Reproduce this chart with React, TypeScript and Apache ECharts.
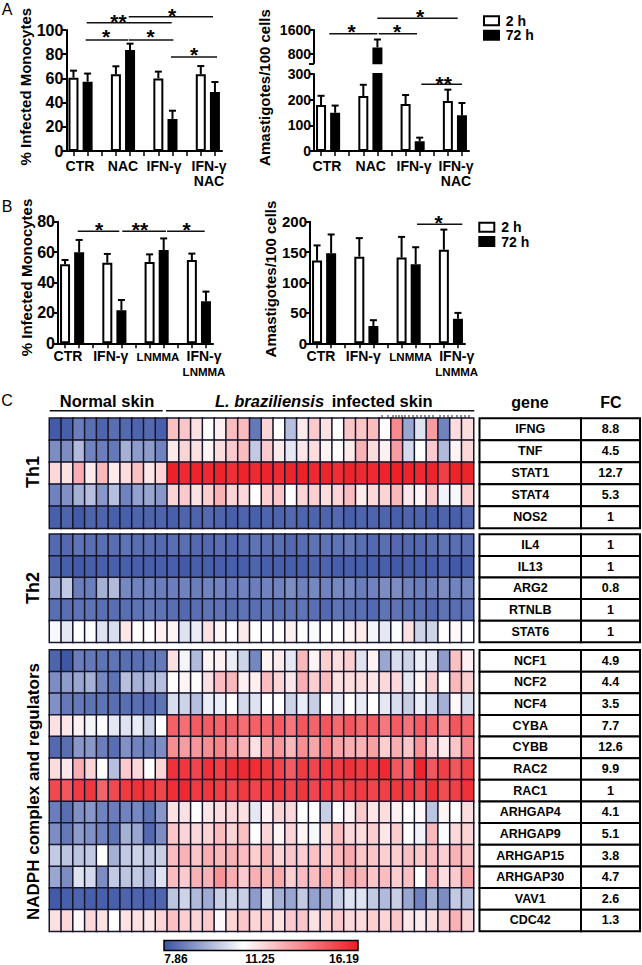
import React, { useEffect, useRef } from "react";
import * as echarts from "echarts";

// ---------- bar data ----------
const slotNames = ["CTR 2 h", "CTR 72 h", "gap 1", "B 2 h", "B 72 h", "gap 2", "C 2 h", "C 72 h", "gap 3", "D 2 h", "D 72 h"];
const yTitleInfected = "% Infected Monocytes";
const yTitleAmast = "Amastigotes/100 cells";

const aLeft2h = [60.6, 63.4, 60, 63.4];
const aLeft2hErr = [66.4, 70, 65.6, 70.2];
const aLeft72h = [57.3, 83.5, 26.4, 48.8];
const aLeft72hErr = [64, 88.7, 33.3, 57];

const aRight2h = [179, 214, 183, 195];
const aRight2hErr = [215, 258, 218, 239];
const aRight72h = [149, 1026, 38, 139];
const aRight72hErr = [177, 1286, 52, 187];

const bLeft2h = [52, 53, 53.5, 54.8];
const bLeft2hErr = [54.8, 58.8, 58.5, 59];
const bLeft72h = [59.9, 21.7, 61.4, 27.6];
const bLeft72hErr = [68, 28.5, 69, 34];

const bRight2h = [136, 142.5, 141, 154];
const bRight2hErr = [161, 173, 175, 187];
const bRight72h = [148, 28.5, 130, 40.5];
const bRight72hErr = [179, 38, 158, 50];

// ---------- heat map data ----------
const th1Genes = ["IFNG", "TNF", "STAT1", "STAT4", "NOS2"];
const th1FC = ["8.8", "4.5", "12.7", "5.3", "1"];
const th1Values = [
  [8.0, 8.1, 8.7, 8.4, 8.2, 8.4, 8.3, 8.2, 8.3, 8.1, 12.6, 12.5, 11.9, 11.25, 11.6, 12.7, 12.7, 8.6, 12.2, 11.25, 10.0, 11.7, 12.4, 11.9, 11.25, 12.5, 12.5, 12.7, 11.3, 13.8, 9.5, 10.7, 13.4, 8.8, 12.0, 12.0],
  [9.0, 9.0, 9.9, 8.8, 8.7, 8.6, 9.7, 9.3, 9.3, 8.8, 11.7, 12.2, 11.9, 11.5, 12.0, 12.4, 12.7, 10.2, 12.4, 11.7, 10.8, 11.8, 12.0, 11.5, 11.25, 11.7, 12.9, 12.0, 11.6, 13.4, 10.5, 11.25, 12.4, 9.9, 11.5, 12.1],
  [12.1, 11.9, 13.0, 11.7, 12.8, 11.7, 12.0, 12.6, 11.8, 12.2, 16.1, 15.9, 16.0, 15.9, 16.0, 15.8, 16.0, 15.9, 16.0, 15.9, 16.0, 16.1, 15.9, 16.0, 15.8, 16.0, 15.9, 15.9, 16.0, 16.1, 16.0, 15.9, 16.0, 15.4, 16.0, 16.0],
  [8.8, 9.1, 9.7, 10.0, 9.2, 10.0, 8.8, 9.4, 9.5, 9.2, 12.2, 12.4, 11.9, 12.3, 12.9, 12.2, 12.1, 11.25, 12.3, 12.5, 11.25, 12.2, 12.3, 12.0, 12.2, 12.7, 11.7, 12.1, 12.2, 12.8, 11.8, 11.5, 12.5, 11.0, 11.1, 12.3],
  [8.1, 8.2, 8.0, 8.2, 8.2, 8.1, 8.1, 8.2, 8.2, 8.2, 8.1, 8.2, 8.2, 8.3, 8.2, 8.1, 8.2, 8.1, 8.2, 8.2, 8.3, 8.2, 8.2, 8.2, 8.3, 8.1, 8.2, 8.2, 8.2, 8.1, 8.2, 8.2, 8.1, 8.2, 8.1, 8.3],
];

const th2Genes = ["IL4", "IL13", "ARG2", "RTNLB", "STAT6"];
const th2FC = ["1", "1", "0.8", "1", "1"];
const th2Values = [
  [8.3, 8.3, 8.5, 8.4, 8.4, 8.4, 8.5, 8.4, 8.4, 8.3, 8.4, 8.4, 8.3, 8.3, 8.4, 8.3, 8.4, 8.5, 8.4, 8.4, 8.3, 8.4, 8.5, 8.5, 8.5, 8.6, 8.4, 8.3, 8.4, 8.3, 8.3, 8.3, 8.4, 8.5, 8.4, 8.4],
  [8.2, 8.1, 8.0, 8.1, 8.1, 8.1, 8.1, 8.1, 8.1, 8.1, 8.1, 8.0, 8.1, 8.1, 8.1, 8.1, 8.1, 8.2, 8.1, 8.1, 8.1, 8.1, 8.2, 8.2, 8.1, 8.1, 8.1, 8.1, 8.1, 8.0, 8.1, 8.1, 8.1, 8.2, 8.0, 8.1],
  [9.5, 10.2, 8.7, 8.7, 9.7, 9.9, 8.9, 8.8, 8.8, 8.7, 8.7, 8.8, 8.7, 8.8, 8.8, 8.7, 8.8, 8.7, 8.8, 8.8, 9.0, 8.8, 8.9, 8.8, 8.9, 8.9, 8.7, 8.8, 9.0, 9.0, 8.8, 8.7, 8.8, 9.0, 8.8, 8.9],
  [8.4, 8.4, 8.5, 8.5, 8.4, 8.4, 8.4, 8.5, 8.6, 8.5, 8.4, 8.3, 8.4, 8.5, 8.5, 8.4, 8.5, 8.4, 8.5, 8.4, 8.5, 8.5, 8.4, 8.3, 8.5, 8.4, 8.4, 8.3, 8.5, 8.5, 8.4, 8.4, 8.3, 8.5, 8.4, 8.5],
  [11.1, 10.8, 11.25, 11.2, 10.7, 10.6, 11.8, 11.25, 11.25, 11.6, 11.5, 10.7, 10.9, 11.9, 11.5, 11.25, 11.7, 11.25, 11.25, 11.25, 11.6, 11.25, 11.15, 11.25, 11.25, 11.5, 11.7, 11.05, 10.8, 11.2, 11.9, 10.4, 10.4, 11.25, 11.4, 11.25],
];

const nadphGenes = ["NCF1", "NCF2", "NCF4", "CYBA", "CYBB", "RAC2", "RAC1", "ARHGAP4", "ARHGAP9", "ARHGAP15", "ARHGAP30", "VAV1", "CDC42"];
const nadphFC = ["4.9", "4.4", "3.5", "7.7", "12.6", "9.9", "1", "4.1", "5.1", "3.8", "4.7", "2.6", "1.3"];
const nadphValues = [
  [8.2, 7.95, 8.7, 8.6, 8.5, 8.5, 8.4, 8.4, 8.5, 8.6, 11.9, 11.05, 9.9, 11.5, 11.6, 10.9, 10.4, 8.9, 11.5, 11.7, 10.8, 12.8, 11.5, 12.3, 12.0, 12.3, 10.7, 11.5, 9.5, 10.6, 10.4, 10.9, 10.7, 9.3, 12.6, 11.6],
  [9.0, 9.3, 9.5, 9.7, 8.9, 8.5, 10.0, 9.7, 9.8, 10.0, 11.25, 11.5, 11.3, 11.9, 12.7, 12.8, 11.6, 11.6, 12.7, 12.2, 11.8, 13.0, 12.3, 12.7, 11.9, 12.0, 12.0, 11.8, 12.1, 12.1, 10.8, 11.5, 12.3, 11.25, 12.8, 12.3],
  [9.1, 8.6, 8.6, 8.5, 8.5, 8.4, 8.4, 8.4, 8.3, 8.5, 10.6, 10.4, 10.0, 10.9, 10.9, 11.25, 10.5, 10.7, 11.25, 11.25, 10.4, 10.9, 10.3, 11.25, 10.8, 11.25, 10.9, 11.25, 10.8, 10.6, 10.3, 10.9, 10.5, 9.7, 11.4, 10.6],
  [11.9, 11.8, 11.6, 11.05, 11.25, 10.8, 10.7, 10.9, 10.4, 11.25, 14.7, 14.4, 14.8, 14.8, 14.6, 14.7, 14.4, 14.7, 14.6, 14.8, 14.2, 14.9, 14.6, 14.9, 14.5, 14.9, 14.5, 14.8, 14.2, 14.8, 14.3, 14.8, 14.7, 13.7, 14.9, 14.6],
  [8.3, 8.4, 9.2, 9.2, 8.7, 8.4, 9.1, 8.8, 8.7, 9.0, 13.7, 13.4, 13.5, 13.7, 13.9, 13.4, 12.9, 11.9, 13.3, 13.5, 12.8, 13.7, 13.2, 14.0, 13.2, 13.0, 12.9, 13.3, 12.3, 13.0, 12.5, 13.6, 12.4, 11.7, 12.5, 13.8],
  [12.0, 11.8, 13.0, 12.2, 11.3, 10.0, 12.4, 12.1, 11.25, 12.2, 15.7, 15.6, 15.3, 15.7, 15.4, 15.8, 15.9, 15.8, 15.6, 15.3, 14.8, 15.5, 15.3, 15.5, 15.5, 15.7, 15.5, 15.6, 15.9, 14.9, 14.4, 16.0, 14.9, 15.4, 14.9, 15.3],
  [15.2, 14.9, 15.5, 15.6, 14.6, 15.2, 15.5, 15.7, 15.6, 15.3, 15.8, 15.9, 15.5, 15.6, 15.4, 15.2, 15.5, 15.3, 15.5, 15.6, 15.3, 15.6, 15.3, 15.5, 15.2, 15.4, 15.5, 15.3, 15.4, 15.6, 15.5, 15.2, 15.7, 15.1, 15.4, 15.7],
  [8.7, 8.4, 9.1, 9.2, 8.8, 8.7, 8.8, 8.9, 8.5, 9.2, 11.9, 11.9, 11.25, 11.8, 12.0, 12.1, 11.9, 10.8, 11.6, 12.2, 12.1, 11.25, 11.25, 10.3, 11.25, 11.6, 12.4, 11.8, 12.0, 11.6, 11.25, 11.4, 10.1, 11.5, 11.25, 12.0],
  [9.0, 8.6, 9.3, 9.1, 8.8, 8.5, 9.7, 9.5, 8.3, 9.0, 12.5, 12.2, 12.1, 12.2, 12.7, 12.2, 12.6, 11.25, 12.2, 11.5, 12.2, 11.5, 11.1, 12.0, 12.7, 12.1, 12.0, 12.3, 11.8, 12.3, 11.3, 11.0, 12.8, 11.2, 12.1, 12.2],
  [10.2, 10.1, 10.1, 10.2, 11.25, 9.7, 10.2, 10.4, 10.2, 10.3, 12.7, 12.9, 12.5, 13.0, 12.8, 12.9, 12.7, 12.3, 12.9, 12.2, 12.5, 12.3, 12.6, 12.3, 12.8, 13.1, 12.5, 12.5, 12.3, 12.3, 12.6, 12.4, 12.7, 12.3, 12.9, 12.6],
  [9.5, 9.0, 10.7, 10.5, 9.0, 10.2, 10.1, 10.2, 9.9, 10.7, 12.7, 12.4, 12.9, 12.9, 13.6, 13.0, 12.4, 13.0, 12.8, 13.1, 12.3, 12.7, 12.7, 13.0, 12.5, 13.1, 12.9, 12.5, 12.7, 12.3, 12.6, 11.25, 12.9, 12.0, 12.4, 13.2],
  [8.0, 8.1, 8.2, 8.1, 8.1, 8.1, 8.2, 8.2, 8.1, 8.2, 10.1, 10.4, 9.9, 9.6, 10.3, 10.4, 10.3, 9.3, 10.6, 9.7, 9.5, 10.2, 9.4, 9.6, 10.3, 10.7, 10.7, 10.2, 9.9, 10.3, 9.5, 8.8, 9.7, 9.0, 10.2, 10.0],
  [11.9, 12.1, 11.4, 12.1, 11.9, 11.25, 11.9, 11.9, 11.8, 12.2, 12.6, 12.3, 12.2, 12.4, 11.4, 12.2, 12.5, 12.2, 12.3, 11.9, 12.4, 12.5, 11.9, 12.2, 12.4, 12.1, 12.0, 12.3, 12.2, 12.5, 11.8, 11.7, 12.0, 12.3, 12.9, 12.2],
];

const colorMin = 7.86;
const colorMid = 11.25;
const colorMax = 16.19;

const FONT = '"Liberation Sans", Arial, sans-serif';
const BLUE = [58, 83, 164];
const RED = [237, 28, 36];

function rampColor(v: number) {
  const mix = (a: number[], t: number) =>
    `rgb(${a.map((c) => Math.round(255 + (c - 255) * t)).join(",")})`;
  if (v <= colorMid) return mix(BLUE, (colorMid - v) / (colorMid - colorMin));
  return mix(RED, (v - colorMid) / (colorMax - colorMid));
}
const rampStops = Array.from({ length: 60 }, (_, i) =>
  rampColor(colorMin + ((colorMax - colorMin) * i) / 59)
);

const slots2h = [0, 3, 6, 9];
const slots72h = [1, 4, 7, 10];

function slotted(values: number[], slots: number[], min: number) {
  const out: (number | null)[] = slotNames.map(() => null);
  values.forEach((v, i) => {
    out[slots[i]] = v >= min ? v : null;
  });
  return out;
}

function errorSeries(gridIdx: number, tops: number[], values: number[], slots: number[], min: number, max: number) {
  const data = values
    .map((v, i) => [slots[i], v, tops[i]])
    .filter((d) => d[1] >= min && d[2] <= max);
  return {
    type: "custom",
    xAxisIndex: gridIdx,
    yAxisIndex: gridIdx,
    z: 1,
    clip: false,
    silent: true,
    data,
    encode: { x: 0, y: [1, 2] },
    renderItem: (_: any, api: any) => {
      const low = api.coord([api.value(0), api.value(1)]);
      const high = api.coord([api.value(0), api.value(2)]);
      const style = { stroke: "#000", lineWidth: 2, fill: "none" };
      return {
        type: "group",
        children: [
          { type: "line", shape: { x1: low[0], y1: low[1], x2: high[0], y2: high[1] }, style },
          { type: "line", shape: { x1: low[0] - 3.5, y1: high[1], x2: low[0] + 3.5, y2: high[1] }, style },
        ],
      };
    },
  };
}

function barSeriesFor(gridIdx: number, name: string, vals: number[], slots: number[], fill: string, min: number) {
  return {
    name,
    type: "bar",
    xAxisIndex: gridIdx,
    yAxisIndex: gridIdx,
    barWidth: 10,
    barGap: "-100%",
    z: 2,
    silent: true,
    itemStyle: { color: fill, borderColor: "#000", borderWidth: 2 },
    data: slotted(vals, slots, min),
  };
}

const barPanels = [
  { left: 66.4, top: 30, width: 155.6, height: 121, min: 0, max: 100, interval: 20, fs: 16, v2: aLeft2h, e2: aLeft2hErr, v7: aLeft72h, e7: aLeft72hErr },
  { left: 314, top: 74, width: 155, height: 77, min: 0, max: 300, interval: 100, fs: 14, v2: aRight2h, e2: aRight2hErr, v7: aRight72h, e7: aRight72hErr },
  { left: 314, top: 30, width: 155, height: 33.3, min: 500, max: 1600, interval: 100, fs: 14, v2: aRight2h, e2: aRight2hErr, v7: aRight72h, e7: aRight72hErr, upper: true },
  { left: 58, top: 221.7, width: 155, height: 121.6, min: 0, max: 80, interval: 20, fs: 16, v2: bLeft2h, e2: bLeft2hErr, v7: bLeft72h, e7: bLeft72hErr },
  { left: 310, top: 221.7, width: 155, height: 121.6, min: 0, max: 200, interval: 50, fs: 15, v2: bRight2h, e2: bRight2hErr, v7: bRight72h, e7: bRight72hErr },
];

const heatBlocks = [
  { top: 418.3, height: 110, rows: th1Values, genes: th1Genes, fc: th1FC },
  { top: 534.3, height: 108, rows: th2Values, genes: th2Genes, fc: th2FC },
  { top: 650, height: 281.3, rows: nadphValues, genes: nadphGenes, fc: nadphFC },
];
const HEAT_LEFT = 49.5;
const HEAT_WIDTH = 424;

// text helpers
function txt(text: string, x: number, y: number, fontSize: number, opts: any = {}) {
  return {
    type: "text",
    x,
    y,
    rotation: opts.rotation || 0,
    z: 10,
    silent: true,
    style: {
      text,
      fill: opts.fill || "#000",
      fontFamily: FONT,
      fontSize,
      fontWeight: opts.weight || "bold",
      fontStyle: opts.italic ? "italic" : "normal",
      textAlign: opts.align || "center",
      textVerticalAlign: "middle",
    },
  };
}
function hline(x1: number, x2: number, y: number, w = 1.5, stroke = "#111") {
  return { type: "line", z: 10, silent: true, shape: { x1, y1: y, x2, y2: y }, style: { stroke, lineWidth: w } };
}
function star(text: string, x: number, y: number) {
  return txt(text, x, y + 4.4, 21);
}

const xGroupLabels = [
  ["CTR", 80, 165.7, 14], ["NAC", 123, 165.7, 14], ["IFN-γ", 164, 165.7, 14], ["IFN-γ", 209, 165.7, 14], ["NAC", 209, 181, 14],
  ["CTR", 327, 165.7, 14], ["NAC", 370.7, 165.7, 14], ["IFN-γ", 414, 165.7, 14], ["IFN-γ", 456, 165.7, 14], ["NAC", 456, 181, 14],
  ["CTR", 68, 356, 14], ["IFN-γ", 110.7, 356, 14], ["LNMMA", 158, 357, 11.5], ["IFN-γ", 204, 356, 14], ["LNMMA", 204, 372, 11.5],
  ["CTR", 321, 356, 14], ["IFN-γ", 363.3, 356, 14], ["LNMMA", 410.7, 357, 11.5], ["IFN-γ", 456.7, 356, 14], ["LNMMA", 456.7, 372, 11.5],
] as [string, number, number, number][];

const sigLines = [
  [86.7, 171.7, 22.7], [128.7, 213, 16.7], [85.7, 128.3, 40], [128.9, 173.3, 40], [171, 217, 57],
  [329.3, 377.3, 33.7], [378.7, 417, 33.7], [377.3, 457.7, 18.3], [421.3, 462, 84.3],
  [77.7, 119.3, 231.3], [122.3, 166, 231.3], [167, 204.7, 231.3], [417, 462.3, 224.3],
];
const sigStars = [
  ["**", 118.5, 16.7], ["*", 172, 11], ["*", 106, 32.3], ["*", 150.7, 32], ["*", 194, 50],
  ["*", 351.7, 27], ["*", 397, 27], ["*", 420, 12], ["**", 443.7, 78.7],
  ["*", 99, 225], ["**", 140, 225], ["*", 186.7, 225], ["*", 438.7, 218.3],
] as [string, number, number][];

const legends = [
  { x: 484, y1: 16.3, y2: 30.7, tx: 505.7 },
  { x: 479.3, y1: 222.7, y2: 237, tx: 501.3 },
];
const legendNames = ["2 h", "72 h"];
const colorTicks = [["7.86", 176], ["11.25", 260], ["16.19", 344]] as [string, number][];
const topMarks = [382, 388, 393, 396, 399, 402, 405, 409, 413, 417, 421, 425, 429, 433, 440, 444, 448, 452, 457, 461, 465, 469];

function buildOption() {
  const grid: any[] = [];
  const xAxis: any[] = [];
  const yAxis: any[] = [];
  const series: any[] = [];
  const axisLine = { show: true, onZero: false, lineStyle: { color: "#000", width: 2 } };

  barPanels.forEach((p: any, i) => {
    grid.push({ left: p.left, top: p.top, width: p.width, height: p.height });
    xAxis.push({
      type: "category",
      gridIndex: i,
      data: slotNames,
      show: !p.upper,
      axisLine,
      axisTick: { show: true, alignWithLabel: true, interval: 0, length: 5, lineStyle: { color: "#000", width: 1.5 } },
      axisLabel: { show: false },
      splitLine: { show: false },
    });
    yAxis.push({
      type: "value",
      gridIndex: i,
      min: p.min,
      max: p.max,
      interval: p.interval,
      axisLine,
      axisTick: { show: true, length: 5, lineStyle: { color: "#000", width: 2 }, ...(p.upper ? { customValues: [500, 800, 1600] } : {}) },
      axisLabel: {
        show: true,
        margin: 3,
        color: "#000",
        fontFamily: FONT,
        fontWeight: "bold",
        fontSize: p.fs,
        formatter: (v: number) => String(v),
        ...(p.upper ? { customValues: [800, 1600] } : {}),
      },
      splitLine: { show: false },
    });
    series.push(barSeriesFor(i, "2 h", p.v2, slots2h, "#fff", p.min));
    series.push(barSeriesFor(i, "72 h", p.v7, slots72h, "#000", p.min));
    series.push(errorSeries(i, p.e2, p.v2, slots2h, p.min, p.max));
    series.push(errorSeries(i, p.e7, p.v7, slots72h, p.min, p.max));
  });

  const heatSeriesIdx: number[] = [];
  const columns = heatBlocks[0].rows[0].map((_, c) => `S${c + 1}`);
  heatBlocks.forEach((b, k) => {
    const gi = barPanels.length + k;
    grid.push({ left: HEAT_LEFT, top: b.top, width: HEAT_WIDTH, height: b.height });
    xAxis.push({ type: "category", gridIndex: gi, data: columns, show: false });
    yAxis.push({ type: "category", gridIndex: gi, data: b.genes, inverse: true, show: false });
    const data: number[][] = [];
    b.rows.forEach((row, r) => row.forEach((v, c) => data.push([c, r, v])));
    heatSeriesIdx.push(series.length);
    series.push({
      type: "heatmap",
      xAxisIndex: gi,
      yAxisIndex: gi,
      silent: true,
      data,
      itemStyle: { borderColor: "#16162c", borderWidth: 1.5 },
    });
  });

  const g: any[] = [];
  // panel letters
  g.push(txt("A", 7, 9, 16, { weight: "normal" }), txt("B", 7, 206, 16, { weight: "normal" }), txt("C", 7, 400, 16, { weight: "normal" }));
  // y titles
  const rot = Math.PI / 2;
  g.push(
    txt(yTitleInfected, 25, 86.7, 15, { rotation: rot }),
    txt(yTitleAmast, 264, 87.5, 15, { rotation: rot }),
    txt(yTitleInfected, 26.7, 277.5, 15, { rotation: rot }),
    txt(yTitleAmast, 270, 279, 15, { rotation: rot })
  );
  xGroupLabels.forEach(([t, x, y, s]) => g.push(txt(t, x, y, s)));
  sigLines.forEach(([a, b, y]) => g.push(hline(a, b, y)));
  sigStars.forEach(([t, x, y]) => g.push(star(t, x, y)));
  legends.forEach((l) => {
    g.push(
      { type: "rect", z: 10, silent: true, shape: { x: l.x, y: l.y1, width: 15, height: 9 }, style: { fill: "#fff", stroke: "#000", lineWidth: 2 } },
      { type: "rect", z: 10, silent: true, shape: { x: l.x, y: l.y2, width: 15, height: 9 }, style: { fill: "#000", stroke: "#000", lineWidth: 2 } },
      txt(legendNames[0], l.tx, l.y1 + 4.5, 14, { align: "left" }),
      txt(legendNames[1], l.tx, l.y2 + 4.5, 14, { align: "left" })
    );
  });
  // heat map headers
  g.push(
    txt("Normal skin", 107, 400.7, 16.5),
    hline(49.7, 162.7, 410.7, 1.6),
    hline(166, 474.3, 410.7, 1.6),
    txt("L. braziliensis", 215, 400.7, 16.5, { align: "left", italic: true }),
    txt("infected skin", 331.7, 400.7, 16.5, { align: "left" }),
    txt("gene", 530, 402, 16),
    txt("FC", 611, 402, 16),
    txt("Th1", 33, 472, 18, { rotation: rot }),
    txt("Th2", 33, 588, 18, { rotation: rot }),
    txt("NADPH complex and regulators", 33, 791.5, 17, { rotation: rot })
  );
  topMarks.forEach((x) => g.push({ type: "line", z: 10, silent: true, shape: { x1: x, y1: 415, x2: x, y2: 418 }, style: { stroke: "#222", lineWidth: 1 } }));
  // gene tables
  const T_L = 479.5;
  const T_M = 581;
  const T_R = 640;
  heatBlocks.forEach((b) => {
    const rh = b.height / b.genes.length;
    b.genes.forEach((name, r) => {
      const y = b.top + r * rh;
      g.push(
        { type: "rect", z: 10, silent: true, shape: { x: T_L, y, width: T_M - T_L, height: rh }, style: { fill: "#fff", stroke: "#000", lineWidth: 2 } },
        { type: "rect", z: 10, silent: true, shape: { x: T_M, y, width: T_R - T_M, height: rh }, style: { fill: "#fff", stroke: "#000", lineWidth: 2 } },
        txt(name, (T_L + T_M) / 2, y + rh / 2, 12.5),
        txt(b.fc[r], (T_M + T_R) / 2, y + rh / 2, 12.5)
      );
    });
  });
  // colour bar
  g.push({
    type: "rect",
    z: 10,
    silent: true,
    shape: { x: 164, y: 940.5, width: 194, height: 10 },
    style: {
      stroke: "#000",
      lineWidth: 1.5,
      fill: new echarts.graphic.LinearGradient(0, 0, 1, 0, [
        { offset: 0, color: rampColor(colorMin) },
        { offset: (colorMid - colorMin) / (colorMax - colorMin), color: rampColor(colorMid) },
        { offset: 1, color: rampColor(colorMax) },
      ]),
    },
  });
  colorTicks.forEach(([t, x]) => g.push(txt(t, x, 958.5, 12)));

  return {
    animation: false,
    backgroundColor: "#fff",
    grid,
    xAxis,
    yAxis,
    series,
    visualMap: {
      show: false,
      type: "continuous",
      min: colorMin,
      max: colorMax,
      dimension: 2,
      seriesIndex: heatSeriesIdx,
      inRange: { color: rampStops },
    },
    graphic: { elements: g },
  };
}

export default function App() {
  const ref = useRef<HTMLDivElement>(null);
  useEffect(() => {
    document.body.style.margin = "0";
    const chart = echarts.init(ref.current!, undefined, { renderer: "svg" });
    chart.setOption(buildOption() as any);
    return () => chart.dispose();
  }, []);
  return <div ref={ref} style={{ width: 642, height: 965 }} />;
}
